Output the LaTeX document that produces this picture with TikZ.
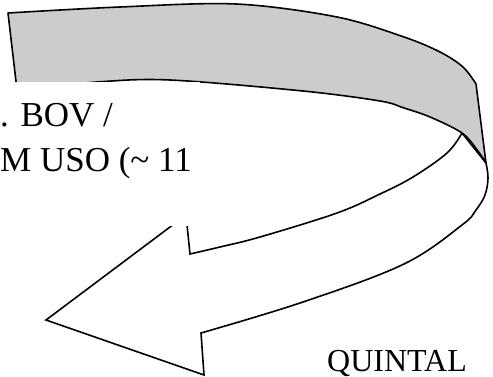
\documentclass[tikz,border=0pt]{standalone}
\usepackage{fontspec}
\setmainfont{Liberation Serif}

\tikzset{
  band/.style={fill=gray!40, draw=black, line width=1.6pt, line join=round},
  front/.style={fill=white, draw=black, line width=1.6pt, line join=miter},
  plaintext/.style={inner sep=0pt, font=\fontsize{32}{36}\selectfont},
  boxtext/.style={inner sep=0pt, font=\fontsize{35}{45}\selectfont}
}

\begin{document}
\begin{tikzpicture}[x=1pt,y=-1pt]
                \useasboundingbox (0,0) rectangle (493,377);
                
                % Front of the arrow (white part with the head)
                \draw[front] plot[smooth,tension=0.6] coordinates {(486,163) (488,178) (485,195) (476,210) (462,225) (404,264) (303,302) (201,333)}
                    -- (204,375) -- (46,320) -- (186,215) -- (190,254)
                    -- plot[smooth,tension=0.6] coordinates {(190,254) (220,247) (260,237) (337,213) (380,194) (413,177) (447,153) (462,133)}
                    -- cycle;
                
                % Back of the arrow (gray band)
                \draw[band] plot[smooth,tension=0.55] coordinates {(8,13) (120,7) (236,4) (337,17) (404,37) (440,52) (463,67) (476,84)}
                    -- (486,163)
                    -- plot[smooth,tension=0.55] coordinates {(486,163) (478,151) (462,133) (430,117) (404,108) (380,101) (303,91) (170,80) (97,82) (17,90)}
                    -- cycle;
                
                % Text box over the left side
                \fill[white] (-2,82) rectangle (200,226);
                \node[boxtext, anchor=base west] (bov) at (0,127) {. BOV /};
                \node[boxtext, anchor=base west] (uso) at (0,172) {M USO (\textasciitilde{} 11};
                
                % Label at the bottom right
                \node[plaintext, anchor=base west] (quintal) at (327,371) {QUINTAL};
                
\end{tikzpicture}
\end{document}
